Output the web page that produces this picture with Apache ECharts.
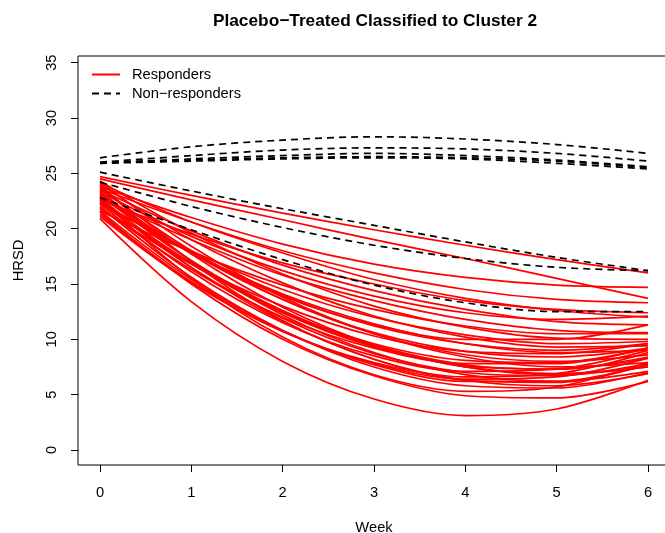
<!DOCTYPE html>
<html>
<head>
<meta charset="utf-8">
<script src="https://cdn.jsdelivr.net/npm/echarts@6/dist/echarts.min.js"></script>
<style>
  html, body { margin: 0; padding: 0; background: #fff; }
  #main { width: 665px; height: 533px; }
</style>
</head>
<body>
<div id="main"></div>
<script>
var weeks = [0, 1, 2, 3, 4, 5, 6];
var xTicks = [0, 1, 2, 3, 4, 5, 6];
var yTicks = [0, 5, 10, 15, 20, 25, 30, 35];

// fitted HRSD trajectories, read at weeks 0..6
var responders = [
    [24.7, 23.0, 21.4, 19.9, 18.5, 17.2, 16.0],
    [24.5, 22.6, 20.8, 19.0, 17.3, 15.5, 13.7],
    [23.8, 21.0, 18.6, 16.8, 15.6, 14.9, 14.7],
    [23.6, 20.6, 18.0, 16.0, 14.5, 13.6, 13.3],
    [24.1, 20.6, 17.8, 15.4, 13.7, 12.6, 12.0],
    [23.3, 19.3, 16.2, 13.9, 12.4, 11.8, 12.1],
    [23.5, 19.8, 16.7, 14.4, 12.7, 11.6, 11.3],
    [22.8, 19.0, 15.8, 13.5, 11.8, 10.8, 10.6],
    [24.3, 19.6, 15.9, 13.0, 11.1, 10.1, 10.0],
    [22.3, 18.0, 14.5, 12.0, 10.4, 9.6, 9.8],
    [23.0, 17.8, 13.9, 11.3, 10.0, 10.0, 11.3],
    [21.6, 17.9, 14.9, 12.7, 11.2, 10.5, 10.5],
    [22.6, 19.5, 16.9, 15.0, 13.5, 12.7, 12.4],
    [20.9, 13.4, 8.0, 4.6, 3.1, 3.7, 6.3],
    [21.5, 15.0, 10.0, 6.7, 4.9, 4.7, 6.2],
    [22.0, 15.6, 10.8, 7.5, 5.8, 5.6, 7.0],
    [22.8, 16.5, 11.6, 8.2, 6.3, 5.8, 6.9],
    [23.4, 17.1, 12.2, 8.8, 6.8, 6.2, 7.1],
    [21.6, 15.4, 10.8, 7.7, 6.2, 6.2, 7.7],
    [22.5, 16.5, 11.9, 8.7, 7.0, 6.7, 7.8],
    [23.8, 17.7, 12.9, 9.5, 7.5, 6.8, 7.5],
    [22.2, 16.1, 11.5, 8.5, 7.1, 7.3, 9.0],
    [23.0, 17.1, 12.6, 9.5, 7.7, 7.3, 8.3],
    [21.3, 15.2, 10.7, 7.9, 6.6, 6.9, 8.8],
    [24.2, 18.4, 13.8, 10.5, 8.4, 7.5, 7.9],
    [22.6, 16.9, 12.5, 9.6, 8.1, 7.9, 9.2],
    [23.6, 18.0, 13.6, 10.5, 8.6, 8.0, 8.6],
    [21.9, 16.3, 12.0, 9.2, 7.8, 7.8, 9.2],
    [23.2, 17.8, 13.6, 10.6, 8.9, 8.4, 9.2],
    [22.4, 17.8, 14.1, 11.4, 9.6, 8.8, 9.0],
    [21.8, 16.8, 13.0, 10.3, 8.9, 8.7, 9.6],
    [24.0, 19.0, 15.1, 12.1, 10.2, 9.3, 9.4],
    [22.9, 17.9, 14.0, 11.2, 9.6, 9.0, 9.6],
    [22.7, 15.5, 10.2, 6.8, 5.3, 5.7, 7.9],
    [23.9, 17.0, 11.7, 8.2, 6.3, 6.1, 7.7],
    [21.1, 15.1, 10.7, 7.8, 6.4, 6.6, 8.3],
    [22.3, 16.8, 12.4, 9.4, 7.5, 6.9, 7.5],
    [23.1, 17.1, 12.4, 9.3, 7.6, 7.3, 8.4]
];

var nonResponders = [
    [26.4, 27.4, 28.0, 28.3, 28.1, 27.6, 26.8],
    [26.0, 26.6, 27.1, 27.3, 27.2, 26.8, 26.1],
    [25.9, 26.3, 26.6, 26.8, 26.6, 26.2, 25.6],
    [25.9, 26.1, 26.3, 26.4, 26.3, 25.9, 25.4],
    [26.0, 26.2, 26.4, 26.5, 26.4, 26.1, 25.5],
    [25.1, 23.4, 21.8, 20.3, 18.8, 17.4, 16.2],
    [24.2, 22.0, 20.1, 18.5, 17.3, 16.5, 16.2],
    [22.8, 19.9, 17.2, 14.9, 13.3, 12.5, 12.5]
];

function pairs(vals) {
    return weeks.map(function (w, i) { return [w, vals[i]]; });
}

var series = [];
responders.forEach(function (r) {
    series.push({
        name: 'Responders',
        type: 'line',
        data: pairs(r),
        smooth: 0.33,
        symbol: 'none',
        lineStyle: { color: '#ff0000', width: 1.7 },
        itemStyle: { color: '#ff0000' }
    });
});
nonResponders.forEach(function (r) {
    series.push({
        name: 'Non\u2212responders',
        type: 'line',
        data: pairs(r),
        smooth: 0.33,
        symbol: 'none',
        lineStyle: { color: '#000', width: 1.7, type: [7, 5] },
        itemStyle: { color: '#000' }
    });
});

var myChart = echarts.init(document.getElementById('main'));
var option = {
    backgroundColor: '#fff',
    animation: false,
    textStyle: { fontFamily: 'Liberation Sans, Arial, sans-serif' },
    title: {
        text: 'Placebo\u2212Treated Classified to Cluster 2',
        left: 370,
        textAlign: 'center',
        top: 8,
        textStyle: { fontSize: 17.3, fontWeight: 'bold', color: '#000', fontFamily: 'Liberation Sans' }
    },
    legend: {
        orient: 'vertical',
        left: 86,
        top: 62,
        itemWidth: 28,
        itemHeight: 14,
        itemGap: 4,
        data: ['Responders', 'Non\u2212responders'],
        itemStyle: { color: 'rgba(0,0,0,0)', borderColor: 'rgba(0,0,0,0)', borderWidth: 0 },
        textStyle: { fontSize: 14.7, color: '#000', padding: [0, 0, 0, 7] }
    },
    grid: {
        left: 78,
        top: 56,
        right: -5,
        bottom: 68,
        containLabel: false,
        outerBoundsMode: 'none',
        show: true,
        borderColor: '#000',
        borderWidth: 1
    },
    xAxis: {
        type: 'value',
        min: -0.2407,
        max: 6.2407,
        name: 'Week',
        nameLocation: 'middle',
        nameGap: 55,
        nameTextStyle: { fontSize: 14.7, color: '#000' },
        axisLine: { show: false, onZero: false },
        splitLine: { show: false },
        axisTick: { show: true, length: 7, lineStyle: { color: '#000' }, customValues: xTicks },
        axisLabel: { fontSize: 14.7, color: '#000', margin: 20, customValues: xTicks }
    },
    yAxis: {
        type: 'value',
        min: -1.36,
        max: 35.6,
        name: 'HRSD',
        nameLocation: 'middle',
        nameGap: 52,
        nameRotate: 90,
        nameTextStyle: { fontSize: 14.7, color: '#000' },
        axisLine: { show: false, onZero: false },
        splitLine: { show: false },
        axisTick: { show: true, length: 7, lineStyle: { color: '#000' }, customValues: yTicks },
        axisLabel: { fontSize: 14.7, color: '#000', margin: 19, rotate: 90, customValues: yTicks }
    },
    series: series
};
myChart.setOption(option);
</script>
</body>
</html>
